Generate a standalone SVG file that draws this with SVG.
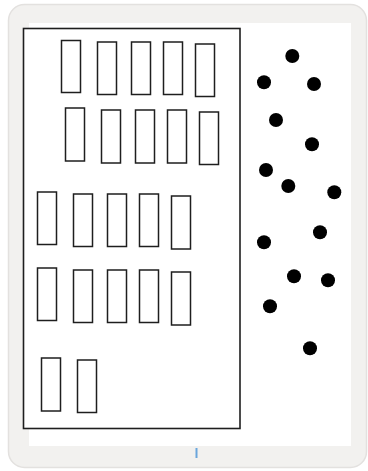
<svg xmlns="http://www.w3.org/2000/svg" width="368" height="471" viewBox="0 0 368 471">
<style>
.win{fill:#f2f1ef;stroke:#e3e1df;stroke-width:1.5}
.bay{fill:#ffffff;stroke:#1e1e1e;stroke-width:1.5}
.dot{fill:#000000}
</style>
<rect x="0" y="0" width="368" height="471" fill="#ffffff"/>
<g id="frame">
<rect class="win" x="8.5" y="4.5" width="358" height="463" rx="16"/>
<rect x="29" y="23" width="322" height="423" fill="#ffffff"/>
<rect x="195.5" y="448" width="2" height="10" fill="#6aa6dc"/>
</g>
<g id="building">
<rect x="23.5" y="28.5" width="216.5" height="400" fill="#ffffff" stroke="#1e1e1e" stroke-width="1.6"/>
</g>
<g id="rooms">
<rect class="bay" x="61.5" y="40.5" width="19" height="52"/>
<rect class="bay" x="97.5" y="42" width="19" height="52.5"/>
<rect class="bay" x="131.5" y="42" width="19" height="52.5"/>
<rect class="bay" x="163.5" y="42" width="19" height="52.5"/>
<rect class="bay" x="195.5" y="44" width="19" height="52.5"/>
<rect class="bay" x="65.5" y="108" width="19" height="53"/>
<rect class="bay" x="101.5" y="110" width="19" height="53"/>
<rect class="bay" x="135.5" y="110" width="19" height="53"/>
<rect class="bay" x="167.5" y="110" width="19" height="53"/>
<rect class="bay" x="199.5" y="112" width="19" height="52.5"/>
<rect class="bay" x="37.5" y="192" width="19" height="52.5"/>
<rect class="bay" x="73.5" y="194" width="19" height="52.5"/>
<rect class="bay" x="107.5" y="194" width="19" height="52.5"/>
<rect class="bay" x="139.5" y="194" width="19" height="52.5"/>
<rect class="bay" x="171.5" y="196" width="19" height="53"/>
<rect class="bay" x="37.5" y="268" width="19" height="52.5"/>
<rect class="bay" x="73.5" y="270" width="19" height="52.5"/>
<rect class="bay" x="107.5" y="270" width="19" height="52.5"/>
<rect class="bay" x="139.5" y="270" width="19" height="52.5"/>
<rect class="bay" x="171.5" y="272" width="19" height="53"/>
<rect class="bay" x="41.5" y="358" width="19" height="53"/>
<rect class="bay" x="77.5" y="360" width="19" height="52.5"/>
</g>
<g id="dots">
<circle class="dot" cx="292.3" cy="56" r="7"/>
<circle class="dot" cx="264" cy="82.3" r="7"/>
<circle class="dot" cx="314" cy="84" r="7"/>
<circle class="dot" cx="276" cy="120" r="7"/>
<circle class="dot" cx="312" cy="144.3" r="7"/>
<circle class="dot" cx="266" cy="170" r="7"/>
<circle class="dot" cx="288.3" cy="186" r="7"/>
<circle class="dot" cx="334.3" cy="192.3" r="7"/>
<circle class="dot" cx="320" cy="232.3" r="7"/>
<circle class="dot" cx="264" cy="242.3" r="7"/>
<circle class="dot" cx="294" cy="276.3" r="7"/>
<circle class="dot" cx="328" cy="280.3" r="7"/>
<circle class="dot" cx="270" cy="306.3" r="7"/>
<circle class="dot" cx="310" cy="348.3" r="7"/>
</g>
<g id="connectors"></g>
</svg>
